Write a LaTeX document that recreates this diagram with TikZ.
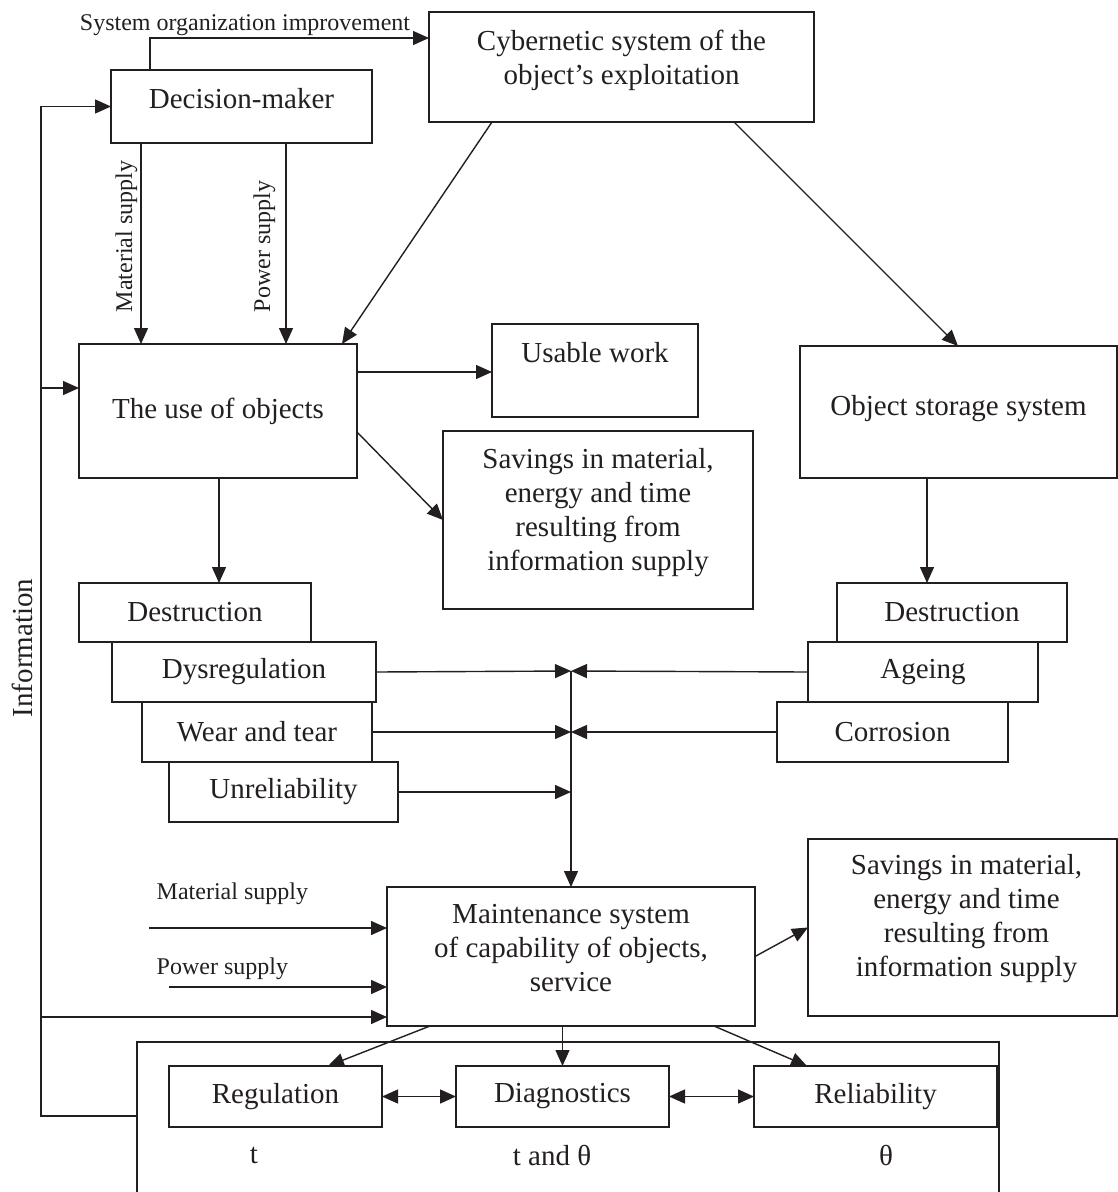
\documentclass[tikz,border=0pt]{standalone}
\usepackage{fontspec}
\setmainfont{Liberation Serif}
\usetikzlibrary{arrows.meta}
\definecolor{ink}{RGB}{35,31,32}

\begin{document}
\begin{tikzpicture}[x=1pt, y=-1pt, line width=1.4pt, color=ink,
        >={Triangle[length=16pt,width=14pt]},
        box/.style={draw, rectangle, anchor=north west, inner sep=0pt, outer sep=0pt,
            font=\fontsize{29pt}{34pt}\selectfont},
        txt/.style={inner sep=0pt, align=center, font=\fontsize{29pt}{34pt}\selectfont},
        lbl/.style={inner sep=0pt, font=\fontsize{24pt}{28pt}\selectfont}]
        \useasboundingbox (0,0) rectangle (1118,1192);

        % main blocks
        \node[box, minimum width=385pt, minimum height=110pt,
            label={[txt, yshift=7pt]center:Cybernetic system of the\\object’s exploitation}] (cyb) at (429,12) {};
        \node[box, minimum width=261pt, minimum height=73pt,
            label={[txt, yshift=8pt]center:Decision-maker}] (dm) at (111,70) {};
        \node[box, minimum width=278pt, minimum height=134pt] (use) at (79,344) {The use of objects};
        \node[box, minimum width=206pt, minimum height=93pt,
            label={[txt, yshift=18pt]center:Usable work}] (uw) at (492,324) {};
        \node[box, minimum width=310pt, minimum height=178pt,
            label={[txt, yshift=7pt]center:Savings in material,\\energy and time\\resulting from\\information supply}] (sav1) at (443,431) {};
        \node[box, minimum width=317pt, minimum height=132pt,
            label={[txt, yshift=3pt]center:Object storage system}] (stor) at (800,346) {};

        % causes of damage
        \node[box, minimum width=232pt, minimum height=59pt] (dL) at (79,583) {Destruction};
        \node[box, minimum width=264pt, minimum height=60pt] (ry) at (112,642) {Dysregulation};
        \node[box, minimum width=230pt, minimum height=60pt] (wt) at (142,702) {Wear and tear};
        \node[box, minimum width=229pt, minimum height=60pt] (ur) at (169,762) {Unreliability};
        \node[box, minimum width=230pt, minimum height=59pt] (dR) at (837,583) {Destruction};
        \node[box, minimum width=230pt, minimum height=60pt] (ag) at (808,642) {Ageing};
        \node[box, minimum width=231pt, minimum height=60pt] (co) at (777,702) {Corrosion};

        % maintenance
        \node[box, minimum width=368pt, minimum height=139pt,
            label={[txt, yshift=8pt]center:Maintenance system\\of capability of objects,\\service}] (maint) at (387,887) {};
        \node[box, minimum width=309pt, minimum height=177pt,
            label={[txt, yshift=9pt, xshift=4pt]center:Savings in material,\\energy and time\\resulting from\\information supply}] (sav2) at (808,839) {};
        \node[box, minimum width=862pt, minimum height=200pt] (bot) at (137,1042) {};
        \node[box, minimum width=213pt, minimum height=61pt] (reg) at (169,1066) {Regulation};
        \node[box, minimum width=213pt, minimum height=61pt] (diag) at (456,1066) {Diagnostics};
        \node[box, minimum width=243pt, minimum height=61pt] (rel) at (754,1066) {Reliability};

        % labels
        \node[lbl, anchor=base] (l-soi) at (245,30) {System organization improvement};
        \node[lbl, rotate=90, anchor=south west] (l-ms1) at (138,313) {Material supply};
        \node[lbl, rotate=90, anchor=south west] (l-ps1) at (276,313) {Power supply};
        \node[lbl, anchor=base west] (l-ms2) at (156,899) {Material supply};
        \node[lbl, anchor=base west] (l-ps2) at (156,974) {Power supply};
        \node[txt, rotate=90] (l-info) at (22,648) {Information};
        \node[txt] (l-t) at (254,1155) {t};
        \node[txt] (l-tth) at (552,1155) {t and θ};
        \node[txt] (l-th) at (886,1155) {θ};

        \coordinate (rail) at (41,0);
        \coordinate (jn) at (571,671);

        % decision-maker
        \draw[->] ([xshift=39pt]dm.north west) |- ([yshift=-26pt]cyb.north west);
        \coordinate (ms-a) at ([xshift=30pt]dm.south west);
        \coordinate (ps-a) at ([xshift=175pt]dm.south west);
        \draw[->] (ms-a) -- (ms-a |- use.north);
        \draw[->] (ps-a) -- (ps-a |- use.north);

        % information loop
        \draw[->] ([yshift=-74pt]bot.north west) -| (rail |- dm.west) -- (dm.west);
        \coordinate (u-in) at ([yshift=23pt]use.west);
        \draw[->] (rail |- u-in) -- (u-in);
        \coordinate (m-in) at ([yshift=9pt]maint.south west);
        \draw[->] (rail |- m-in) -- (m-in);

        % cybernetic system
        \draw[->] ([xshift=63pt]cyb.south west) -- ([xshift=-15pt]use.north east);
        \draw[->] ([xshift=-80pt]cyb.south east) -- ([xshift=158pt]stor.north west);

        % use and storage
        \coordinate (u-out) at ([yshift=-28pt]use.north east);
        \draw[->] (u-out) -- (u-out -| uw.west);
        \draw[->] ([yshift=-21pt]use.east) -- (sav1.west);
        \coordinate (u-dn) at ([xshift=140pt]use.south west);
        \draw[->] (u-dn) -- (u-dn |- dL.north);
        \coordinate (s-dn) at ([xshift=127pt]stor.south west);
        \draw[->] (s-dn) -- (s-dn |- dR.north);

        % causes to maintenance
        \draw[->] (ry.east) -- (jn);
        \draw[->] (ag.west) -- (jn);
        \draw[->] (wt.east) -- (jn |- wt.east);
        \draw[->] (co.west) -- (jn |- co.west);
        \draw[->] (ur.east) -- (jn |- ur.east);
        \draw[->] (jn) -- (jn |- maint.north);

        % maintenance inputs
        \coordinate (m-ms) at ([yshift=-41pt]maint.north west);
        \draw[->] ([xshift=-238pt]m-ms) -- (m-ms);
        \coordinate (m-ps) at ([yshift=-100pt]maint.north west);
        \draw[->] ([xshift=-218pt]m-ps) -- (m-ps);

        % maintenance outputs
        \draw[->] (maint.east) -- (sav2.west);
        \draw[->] ([xshift=43pt]maint.south west) -- ([xshift=-54pt]reg.north east);
        \draw[->] (diag.north |- maint.south) -- (diag.north);
        \draw[->] ([xshift=-41pt]maint.south east) -- ([xshift=53pt]rel.north west);
        \draw[<->] (reg.east) -- (diag.west);
        \draw[<->] (diag.east) -- (rel.west);
    \end{tikzpicture}
\end{document}
